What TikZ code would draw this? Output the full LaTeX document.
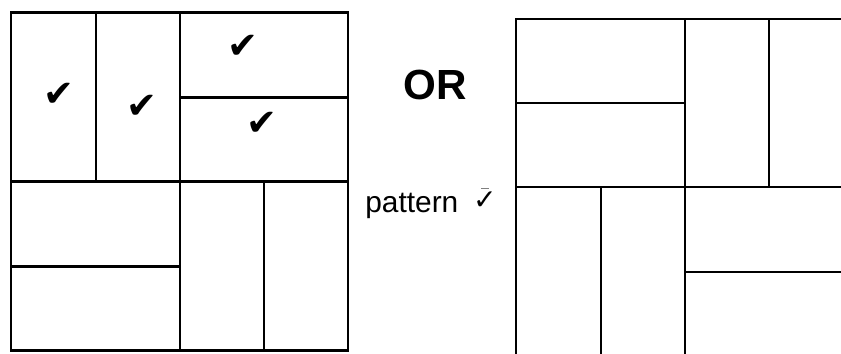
\documentclass[tikz,border=0pt]{standalone}
\usepackage{fontspec}
\setmainfont{Liberation Sans}
\newfontfamily\symfont{DejaVu Sans}
\tikzset{
  checkmark/.style={inner sep=0pt, font=\symfont\fontsize{21}{21}\selectfont},
  tile/.style={line width=1.7pt},
  tileb/.style={line width=1.4pt}
}
\begin{document}
\begin{tikzpicture}[x=0.02cm,y=-0.02cm]
        \useasboundingbox (0,0) rectangle (841,353);
        % left square
        \draw[tile] (11,12) rectangle +(337,338);
        \draw[tile] (180,12) -- (180,350);
        \draw[tile] (11,181) -- (348,181);
        \draw[tile] (96,12) -- (96,181);
        \draw[tile] (180,97) -- (348,97);
        \draw[tile] (11,266) -- (180,266);
        \draw[tile] (264,181) -- (264,350);
        \node[checkmark] (chka) at (59,95) {✔};
        \node[checkmark] (chkb) at (142,107) {✔};
        \node[checkmark] (chkc) at (243,47) {✔};
        \node[checkmark] (chkd) at (262,124) {✔};
        % middle text
        \node (or) at (435,85) {\bfseries\fontsize{24}{24}\selectfont OR};
        \node[anchor=base west, inner sep=0pt] (pat) at (365,212) {\fontsize{17}{17}\selectfont pattern};
        \node[checkmark, font=\symfont\fontsize{16}{16}\selectfont] (chkp) at (485,201) {✓};
        \draw[line width=0.6pt, gray] ([xshift=-2pt,yshift=2pt]chkp.north) -- +(4pt,0);
        % right square
        \begin{scope}
        \clip (0,0) rectangle (841,353);
        \draw[tileb] (516,19) rectangle +(337,337);
        \draw[tileb] (685,19) -- (685,356);
        \draw[tileb] (516,187) -- (853,187);
        \draw[tileb] (516,103) -- (685,103);
        \draw[tileb] (769,19) -- (769,187);
        \draw[tileb] (601,187) -- (601,356);
        \draw[tileb] (685,272) -- (853,272);
        \end{scope}
    \end{tikzpicture}
\end{document}
